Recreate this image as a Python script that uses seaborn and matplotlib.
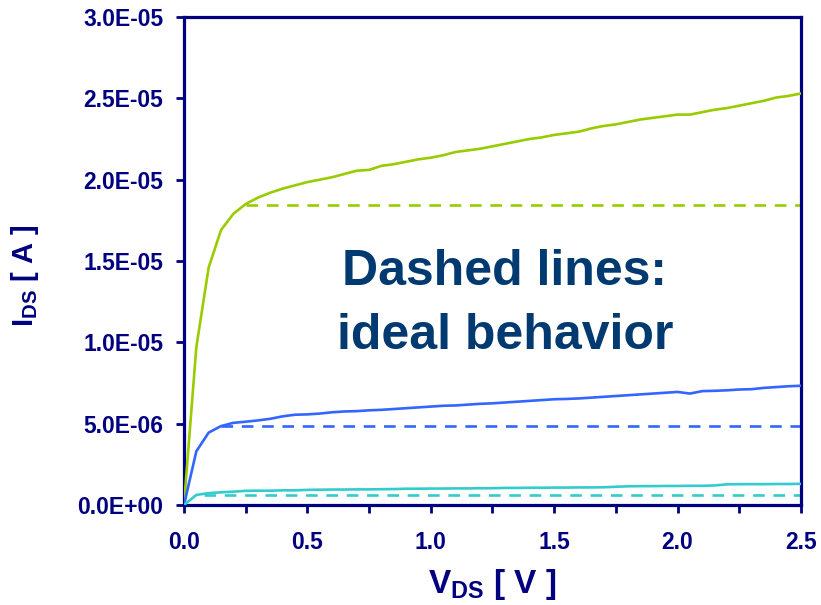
import numpy as np
import pandas as pd
import matplotlib
matplotlib.use("Agg")
import matplotlib.pyplot as plt
from matplotlib.ticker import MultipleLocator, FuncFormatter
import seaborn as sns

# Drain voltage sweep (V)
vds = [0.00, 0.05, 0.10, 0.15, 0.20, 0.25, 0.30, 0.35, 0.40, 0.45,
       0.50, 0.55, 0.60, 0.65, 0.70, 0.75, 0.80, 0.85, 0.90, 0.95,
       1.00, 1.05, 1.10, 1.15, 1.20, 1.25, 1.30, 1.35, 1.40, 1.45,
       1.50, 1.55, 1.60, 1.65, 1.70, 1.75, 1.80, 1.85, 1.90, 1.95,
       2.00, 2.05, 2.10, 2.15, 2.20, 2.25, 2.30, 2.35, 2.40, 2.45,
       2.50]

# Measured drain current (A), three gate biases
ids_high = [0.0, 9.7e-6, 14.6e-6, 16.9e-6, 17.9e-6, 18.5e-6, 18.9e-6, 19.2e-6, 19.45e-6, 19.65e-6,
            19.85e-6, 20.0e-6, 20.15e-6, 20.35e-6, 20.55e-6, 20.6e-6, 20.85e-6, 20.95e-6, 21.1e-6, 21.25e-6,
            21.35e-6, 21.5e-6, 21.7e-6, 21.8e-6, 21.9e-6, 22.05e-6, 22.2e-6, 22.35e-6, 22.5e-6, 22.6e-6,
            22.75e-6, 22.85e-6, 22.95e-6, 23.15e-6, 23.3e-6, 23.4e-6, 23.55e-6, 23.7e-6, 23.8e-6, 23.9e-6,
            24.0e-6, 24.0e-6, 24.15e-6, 24.3e-6, 24.4e-6, 24.55e-6, 24.7e-6, 24.85e-6, 25.05e-6, 25.15e-6,
            25.3e-6]
ids_mid = [0.0, 3.3e-6, 4.45e-6, 4.85e-6, 5.05e-6, 5.12e-6, 5.2e-6, 5.3e-6, 5.45e-6, 5.55e-6,
           5.57e-6, 5.62e-6, 5.7e-6, 5.75e-6, 5.77e-6, 5.82e-6, 5.85e-6, 5.9e-6, 5.95e-6, 6.0e-6,
           6.05e-6, 6.1e-6, 6.12e-6, 6.17e-6, 6.22e-6, 6.25e-6, 6.3e-6, 6.35e-6, 6.4e-6, 6.45e-6,
           6.5e-6, 6.52e-6, 6.55e-6, 6.6e-6, 6.65e-6, 6.7e-6, 6.75e-6, 6.8e-6, 6.85e-6, 6.9e-6,
           6.95e-6, 6.85e-6, 7.0e-6, 7.02e-6, 7.05e-6, 7.1e-6, 7.12e-6, 7.2e-6, 7.25e-6, 7.3e-6,
           7.33e-6]
ids_low = [0.0, 0.62e-6, 0.73e-6, 0.78e-6, 0.82e-6, 0.87e-6, 0.88e-6, 0.88e-6, 0.9e-6, 0.9e-6,
           0.93e-6, 0.94e-6, 0.95e-6, 0.95e-6, 0.96e-6, 0.96e-6, 0.97e-6, 0.98e-6, 1.0e-6, 1.0e-6,
           1.01e-6, 1.01e-6, 1.02e-6, 1.02e-6, 1.03e-6, 1.03e-6, 1.05e-6, 1.05e-6, 1.06e-6, 1.06e-6,
           1.07e-6, 1.07e-6, 1.08e-6, 1.08e-6, 1.09e-6, 1.12e-6, 1.15e-6, 1.16e-6, 1.16e-6, 1.17e-6,
           1.17e-6, 1.18e-6, 1.18e-6, 1.2e-6, 1.27e-6, 1.28e-6, 1.28e-6, 1.28e-6, 1.29e-6, 1.29e-6,
           1.3e-6]

# Ideal (saturated) currents and the voltage where saturation begins
ideal_current = [18.45e-6, 4.87e-6, 0.6e-6]
ideal_start = [0.25, 0.15, 0.08]
series_colors = ["#99cc00", "#3366ff", "#33cccc"]

navy = "#000080"
note_color = "#003a70"

sns.set_style("white")
plt.rcParams["font.family"] = ["Liberation Sans", "DejaVu Sans"]
plt.rcParams["font.weight"] = "bold"
plt.rcParams["mathtext.fontset"] = "custom"
plt.rcParams["mathtext.bf"] = "Liberation Sans:bold"
plt.rcParams["mathtext.rm"] = "Liberation Sans:bold"
plt.rcParams["mathtext.default"] = "bf"

fig = plt.figure(figsize=(8.21, 6.05), dpi=100)
ax = fig.add_axes([0.2241, 0.1653, 0.7515, 0.8066])

measured = pd.DataFrame({
    "vds": vds * 3,
    "ids": ids_high + ids_mid + ids_low,
    "curve": ["high"] * len(vds) + ["mid"] * len(vds) + ["low"] * len(vds),
})
for name, color in zip(["high", "mid", "low"], series_colors):
    sub = measured[measured["curve"] == name]
    sns.lineplot(data=sub, x="vds", y="ids", color=color, linewidth=1.9,
                 ax=ax, estimator=None, sort=False, zorder=3)

for level, start, color in zip(ideal_current, ideal_start, series_colors):
    ideal = pd.DataFrame({"vds": [start, vds[-1]], "ids": [level, level]})
    sns.lineplot(data=ideal, x="vds", y="ids", color=color, linewidth=1.9,
                 ax=ax, estimator=None, zorder=2)
    ax.lines[-1].set_dashes((4.4, 3.3))

ax.set_xlim(0, 2.5)
ax.set_ylim(0, 3.0e-5)
ax.xaxis.set_major_locator(MultipleLocator(0.5))
ax.xaxis.set_minor_locator(MultipleLocator(0.25))
ax.yaxis.set_major_locator(MultipleLocator(5e-6))
ax.xaxis.set_major_formatter(FuncFormatter(lambda v, p: f"{v:.1f}"))
ax.yaxis.set_major_formatter(FuncFormatter(lambda v, p: f"{v:.1E}"))

for side in ["left", "right", "top", "bottom"]:
    ax.spines[side].set_visible(True)
    ax.spines[side].set_color(navy)
    ax.spines[side].set_linewidth(2.3)

ax.tick_params(axis="both", which="both", direction="out", length=6,
               width=2, color=navy, labelcolor=navy, labelsize=16.5)
ax.tick_params(axis="y", left=True, pad=9)
ax.tick_params(axis="x", which="both", bottom=True, pad=13)
for lab in ax.get_xticklabels() + ax.get_yticklabels():
    lab.set_fontweight("bold")

ax.set_xlabel(r"$\mathbf{V}_{\mathbf{DS}}$ [ V ]", fontsize=24,
              fontweight="bold", color=navy, labelpad=9)
ax.set_ylabel(r"$\mathbf{I}_{\mathbf{DS}}$ [ A ]", fontsize=21,
              fontweight="bold", color=navy)
ax.yaxis.set_label_coords(-0.232, 0.47)

ax.text(1.30, 13.52e-6, "Dashed lines:", fontsize=36, fontweight="bold",
        color=note_color, ha="center", va="baseline")
ax.text(1.30, 9.59e-6, "ideal behavior", fontsize=36, fontweight="bold",
        color=note_color, ha="center", va="baseline")

fig.savefig("out.png", dpi=100)
